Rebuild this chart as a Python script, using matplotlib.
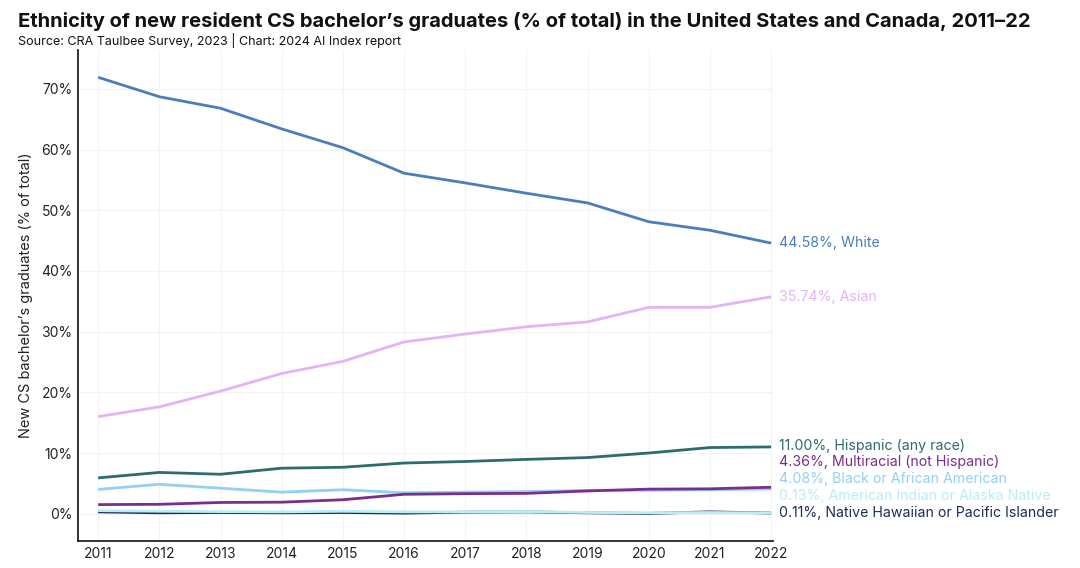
import matplotlib
matplotlib.use("Agg")
import matplotlib.pyplot as plt
from matplotlib.ticker import FuncFormatter

years = list(range(2011, 2023))

white = [71.9, 68.7, 66.8, 63.4, 60.3, 56.1, 54.5, 52.8, 51.2, 48.1, 46.7, 44.58]
asian = [16.0, 17.6, 20.2, 23.1, 25.1, 28.3, 29.6, 30.8, 31.6, 34.0, 34.0, 35.74]
hispanic = [5.9, 6.8, 6.5, 7.5, 7.65, 8.35, 8.6, 8.95, 9.25, 10.0, 10.9, 11.00]
multiracial = [1.5, 1.55, 1.85, 1.9, 2.3, 3.2, 3.3, 3.35, 3.75, 4.05, 4.1, 4.36]
black = [4.0, 4.85, 4.2, 3.55, 3.95, 3.45, 3.55, 3.65, 3.85, 3.85, 3.95, 4.08]
am_indian = [0.5, 0.4, 0.35, 0.3, 0.4, 0.3, 0.3, 0.35, 0.2, 0.15, 0.2, 0.13]
hawaiian = [0.3, 0.15, 0.2, 0.15, 0.2, 0.1, 0.25, 0.3, 0.15, 0.05, 0.3, 0.11]

names = ["White", "Asian", "Hispanic (any race)", "Multiracial (not Hispanic)",
         "Black or African American", "American Indian or Alaska Native",
         "Native Hawaiian or Pacific Islander"]
series = [white, asian, hispanic, multiracial, black, am_indian, hawaiian]
colors = ["#4a7ebb", "#e2b4f6", "#2e6b6c", "#7b2d8e", "#92d0f5", "#b8eef4", "#1d2b57"]

plt.rcParams['font.family'] = ['Inter', 'DejaVu Sans']

fig = plt.figure(figsize=(10.8, 5.68), dpi=100)
ax = fig.add_axes([0.0722, 0.0475, 0.6435, 0.8645])

# draw order: navy under cyan, black under multiracial
order = [0, 1, 2, 4, 3, 6, 5]
for i in order:
    ax.plot(years, series[i], color=colors[i], lw=2, solid_capstyle='butt', zorder=3)

# end labels, pushed apart so they don't overlap
gap = 2.78
ends = sorted(range(len(series)), key=lambda i: series[i][-1])
pos = {}
last = -100
for i in ends:
    y = max(series[i][-1], last + gap)
    pos[i] = y
    last = y
for i in range(len(series)):
    ax.text(2022.13, pos[i], f"{series[i][-1]:.2f}%, {names[i]}", color=colors[i],
            fontsize=10.2, va='center', ha='left', clip_on=False)

ax.set_xlim(2010.67, 2022.03)
ax.set_ylim(-4.5, 76.4)
ax.set_xticks(years)
ax.set_yticks(range(0, 80, 10))
ax.yaxis.set_major_formatter(FuncFormatter(lambda v, p: f"{int(v)}%"))
ax.tick_params(length=0, labelsize=10, colors='#222222', pad=4)
ax.grid(True, color='#f3f3f3', lw=0.8, zorder=0)
for s in ['top', 'right']:
    ax.spines[s].set_visible(False)
for s in ['left', 'bottom']:
    ax.spines[s].set_color('#222222')
    ax.spines[s].set_linewidth(1.3)
ax.set_ylabel("New CS bachelor\u2019s graduates (% of total)", fontsize=10.5, color='#222222', labelpad=6)

fig.text(0.017, 0.962, "Ethnicity of new resident CS bachelor\u2019s graduates (% of total) in the United States and Canada, 2011\u201322",
         fontsize=14.5, fontweight='bold', va='center', ha='left', color='#111111')
fig.text(0.017, 0.929, "Source: CRA Taulbee Survey, 2023 | Chart: 2024 AI Index report",
         fontsize=9, va='center', ha='left', color='#111111')

fig.savefig("out.png", dpi=100)
